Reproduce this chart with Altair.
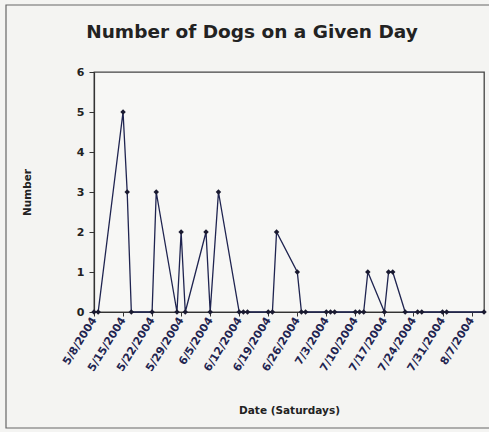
import altair as alt
import pandas as pd

dates = ["2004-05-08", "2004-05-09", "2004-05-15", "2004-05-16", "2004-05-17",
         "2004-05-22", "2004-05-23", "2004-05-28", "2004-05-29", "2004-05-30",
         "2004-06-04", "2004-06-05", "2004-06-07", "2004-06-12", "2004-06-13",
         "2004-06-14", "2004-06-19", "2004-06-20", "2004-06-21", "2004-06-26",
         "2004-06-27", "2004-06-28", "2004-07-03", "2004-07-04", "2004-07-05",
         "2004-07-10", "2004-07-11", "2004-07-12", "2004-07-13", "2004-07-17",
         "2004-07-18", "2004-07-19", "2004-07-22", "2004-07-25", "2004-07-26",
         "2004-07-31", "2004-08-01", "2004-08-10"]
counts = [0, 0, 5, 3, 0,
          0, 3, 0, 2, 0,
          2, 0, 3, 0, 0,
          0, 0, 0, 2, 1,
          0, 0, 0, 0, 0,
          0, 0, 0, 1, 0,
          1, 1, 0, 0, 0,
          0, 0, 0]

tick_dates = [(5, 8), (5, 15), (5, 22), (5, 29), (6, 5), (6, 12), (6, 19),
              (6, 26), (7, 3), (7, 10), (7, 17), (7, 24), (7, 31), (8, 7)]
y_ticks = [0, 1, 2, 3, 4, 5, 6]
title_text = "Number of Dogs on a Given Day"

df = pd.DataFrame({"date": dates, "count": counts})
one = pd.DataFrame({"t": [title_text]})

FONT = "DejaVu Sans"
ink = "#1f2450"

x_enc = alt.X(
    "date:T",
    scale=alt.Scale(type="utc",
                    domain=[alt.DateTime(year=2004, month=5, date=8, utc=True),
                            alt.DateTime(year=2004, month=8, date=10, utc=True)]),
    axis=alt.Axis(
        values=[alt.DateTime(year=2004, month=m, date=d, utc=True) for m, d in tick_dates],
        labelExpr="utcFormat(datum.value, '%-m/%-d/%Y')",
        labelAngle=-58, labelFont=FONT, labelFontSize=11, labelFontWeight="bold",
        labelColor=ink, labelPadding=2, labelOverlap=False,
        tickSize=4, tickColor="#333", domainColor="#333", domainWidth=1.2,
        grid=False, title="Date (Saturdays)", titleFont=FONT, titleFontSize=10.5,
        titleFontWeight="bold", titleColor="#222", titleY=98, titleBaseline="middle",
    ),
)
y_enc = alt.Y(
    "count:Q",
    scale=alt.Scale(domain=[0, 6], nice=False),
    axis=alt.Axis(
        values=y_ticks, format="d", labelFont=FONT, labelFontSize=11,
        labelFontWeight="bold", labelColor="#222", labelPadding=5,
        tickSize=5, tickColor="#333", domainColor="#333", domainWidth=1.2,
        grid=False, title="Number", titleFont=FONT, titleFontSize=10.5,
        titleFontWeight="bold", titleColor="#222", titleX=-67, titleY=120,
        titleAngle=-90, titleAlign="center", titleBaseline="middle",
    ),
)

line = alt.Chart(df).mark_line(
    color=ink, strokeWidth=1.3,
    point=alt.OverlayMarkDef(shape="diamond", filled=True, size=30, color="#1a1a30"),
).encode(x=x_enc, y=y_enc)

frame = alt.Chart(one).mark_rect(fill=None, stroke="#666", strokeWidth=1.2).encode(
    x=alt.value(-88), x2=alt.value(420), y=alt.value(-67), y2=alt.value(356)
)

title = alt.Chart(one).mark_text(
    font=FONT, fontSize=18.5, fontWeight="bold", color="#222",
    align="center", baseline="middle",
).encode(x=alt.value(158), y=alt.value(-40), text="t:N")

chart = alt.layer(line, frame, title).properties(
    width=390, height=240,
    autosize=alt.AutoSizeParams(type="none"),
    padding={"left": 94, "top": 72, "right": 5, "bottom": 120},
    background="#f4f4f2",
).configure_view(stroke="#444", strokeWidth=1.3, fill="#f7f7f5")

chart.save("out.html", embed_options={"renderer": "svg", "actions": False})
